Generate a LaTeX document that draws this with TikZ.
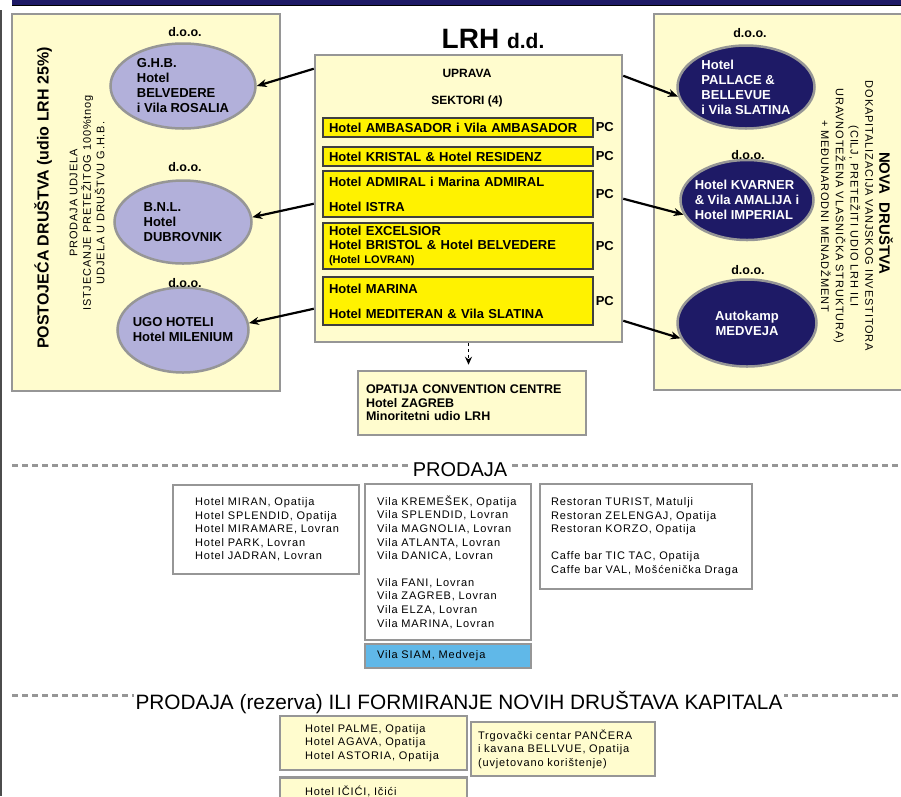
\documentclass[tikz,border=0pt]{standalone}
\usepackage{fontspec}
\setmainfont{Liberation Sans}
\newfontfamily\spacedfont[LetterSpace=8]{Liberation Sans}
\usetikzlibrary{arrows.meta, positioning, shapes.geometric}
\definecolor{lrhnavy}{RGB}{30,26,102}
\definecolor{paleyellow}{RGB}{255,252,206}
\definecolor{sektoryellow}{RGB}{255,242,0}
\definecolor{lavender}{RGB}{178,176,218}
\definecolor{framegray}{RGB}{150,150,150}
\definecolor{siamblue}{RGB}{96,184,232}
\newcommand{\fsz}[2]{\fontsize{#1}{#2}\selectfont}

\begin{document}
\begin{tikzpicture}[x=1pt, y=-1pt,
  panel/.style={draw=framegray, line width=2.5pt, fill=paleyellow},
  sektor/.style={draw=black!75, line width=1.2pt, fill=sektoryellow, minimum width=270pt,
    text width=258pt, align=left, inner xsep=6pt, inner ysep=0pt, font=\fsz{13}{14}\bfseries},
  pc/.style={font=\fsz{13}{14}\bfseries, inner sep=1pt},
  oldco/.style={ellipse, draw=framegray, line width=2.5pt, fill=lavender, inner sep=-10pt,
    align=left, font=\fsz{13}{15}\bfseries},
  newco/.style={ellipse, draw=framegray, line width=2.5pt, fill=lrhnavy, text=white, inner sep=-10pt,
    align=left, font=\fsz{13}{15}\bfseries},
  doo/.style={font=\fsz{12.5}{14}\bfseries, inner sep=1pt},
  listbox/.style={draw=framegray, line width=2.5pt, fill=white, align=left,
    font=\spacedfont\fsz{11}{13.6}},
  reservebox/.style={listbox, fill=paleyellow},
  sepline/.style={framegray, line width=3pt, dash pattern=on 6pt off 4pt},
  arr/.style={-{Stealth[length=10pt, width=8pt]}, line width=2.2pt, black}
]
  \useasboundingbox (0,0) rectangle (901,796);

  % frame of the page
  \fill[lrhnavy] (12,0) rectangle (901,5);
  \draw[black, line width=1pt] (12,5.5) -- (901,5.5);
  \draw[black!70, line width=2pt] (1,10) -- (1,796);

  % panels
  \node[panel, minimum width=268pt, minimum height=377pt] (oldpanel) at (146,202.5) {};
  \node[panel, minimum width=260pt, minimum height=376pt] (newpanel) at (784,202) {};
  \node[panel, minimum width=307pt, minimum height=287pt] (lrh) at (468.5,198.5) {};
  \node[anchor=base, font=\fsz{28}{30}\bfseries] (title) at (493,48) {LRH \fsz{21}{24}d.d.};

  \node[font=\fsz{12}{14}\bfseries] (uprava) at (467,73) {UPRAVA};
  \node[font=\fsz{12}{14}\bfseries] (sektori) at (467,101) {SEKTORI (4)};

  \foreach \i/\ytop/\h/\lbl in {
    1/118/19/{Hotel AMBASADOR i Vila AMBASADOR},
    2/147/19/{Hotel KRISTAL \& Hotel RESIDENZ},
    3/171/46/{Hotel ADMIRAL i Marina ADMIRAL\\[11pt]Hotel ISTRA},
    4/223/46/{Hotel EXCELSIOR\\Hotel BRISTOL \& Hotel BELVEDERE\\{\fsz{11}{13}(Hotel LOVRAN)}},
    5/277/48/{Hotel MARINA\\[11pt]Hotel MEDITERAN \& Vila SLATINA}
  }{
    \node[sektor, minimum height=\h*1pt] (sektor\i) at (458, \ytop+\h/2) {\lbl};
    \node[pc, right=1pt of sektor\i] (pc\i) {PC};
  }

  \node[panel, align=left, font=\fsz{12.5}{13.5}\bfseries, minimum width=228pt, minimum height=64pt,
    text width=212pt] (occ) at (472,403)
    {OPATIJA CONVENTION CENTRE\\Hotel ZAGREB\\Minoritetni udio LRH};
  \draw[-{Stealth[length=8pt, width=7pt]}, line width=1.5pt, dash pattern=on 3pt off 3pt,
    shorten >=5pt] (lrh.south) -- (lrh.south |- occ.north);

  % postojeca drustva
  \node[rotate=90, font=\fsz{16}{18}\bfseries] (oldtitle) at (43,198) {POSTOJEĆA DRUŠTVA (udio LRH 25\%)};
  \node[rotate=90, align=center, font=\spacedfont\fsz{11}{13.5}] (oldnote) at (87,203)
    {PRODAJA UDJELA\\ISTJECANJE PRETEŽITOG 100\%tnog\\UDJELA U DRUŠTVU G.H.B.};
  \node[oldco, minimum width=145pt, minimum height=85pt] (ghb) at (183,86)
    {G.H.B.\\Hotel\\BELVEDERE\\i Vila ROSALIA};
  \node[oldco, minimum width=137pt, minimum height=83pt] (bnl) at (183,222)
    {B.N.L.\\Hotel\\DUBROVNIK};
  \node[oldco, minimum width=131pt, minimum height=85pt] (ugo) at (183,330)
    {UGO HOTELI\\Hotel MILENIUM};
  \node[doo] (doo1) at (185,32) {d.o.o.};
  \node[doo] (doo2) at (185,167) {d.o.o.};
  \node[doo] (doo3) at (185,283) {d.o.o.};

  % nova drustva
  \node[rotate=-90, font=\fsz{15}{18}\bfseries] (newtitle) at (886,213) {NOVA~ DRUŠTVA};
  \node[rotate=-90, align=center, font=\spacedfont\fsz{11}{14.7}] (newnote) at (847,216)
    {DOKAPITALIZACIJA VANJSKOG INVESTITORA\\(CILJ, PRETEŽITI UDIO LRH ILI\\URAVNOTEŽENA VLASNIČKA STRUKTURA)\\+ MEĐUNARODNI MENADŽMENT};
  \node[newco, minimum width=137pt, minimum height=83pt] (pallace) at (746,87)
    {Hotel\\PALLACE \&\\BELLEVUE\\i Vila SLATINA};
  \node[newco, minimum width=133pt, minimum height=80pt] (kvarner) at (747,200)
    {Hotel KVARNER\\\& Vila AMALIJA i\\Hotel IMPERIAL};
  \node[newco, minimum width=139pt, minimum height=87pt, align=center] (medveja) at (747,323)
    {Autokamp\\MEDVEJA};
  \node[doo] (doo4) at (750,33) {d.o.o.};
  \node[doo] (doo5) at (748,155) {d.o.o.};
  \node[doo] (doo6) at (748,270) {d.o.o.};

  % arrows
  \draw[arr] ([yshift=-15pt]lrh.north west) -- (ghb.east);
  \draw[arr] ([yshift=-150pt]lrh.north west) -- (bnl.4);
  \draw[arr] ([yshift=-255pt]lrh.north west) -- (ugo.6);
  \draw[arr] ([yshift=-22pt]lrh.north east) -- (pallace.188);
  \draw[arr] ([yshift=-145pt]lrh.north east) -- (kvarner.193);
  \draw[arr] ([yshift=-267pt]lrh.north east) -- (medveja.193);

  % prodaja
  \draw[sepline] (12,465) -- (901,465);
  \node[fill=white, inner xsep=2pt, inner ysep=1pt, font=\fsz{20}{22}] (prodaja) at (460,469.5) {PRODAJA};
  \node[listbox, minimum width=186pt, minimum height=89pt, text width=142pt, inner xsep=22pt] (hotels) at (266,529.5)
    {Hotel MIRAN, Opatija\\Hotel SPLENDID, Opatija\\Hotel MIRAMARE, Lovran\\Hotel PARK, Lovran\\Hotel JADRAN, Lovran};
  \node[listbox, minimum width=166pt, minimum height=156pt, text width=142pt, inner xsep=12pt] (vile) at (448,562)
    {Vila KREMEŠEK, Opatija\\Vila SPLENDID, Lovran\\Vila MAGNOLIA, Lovran\\Vila ATLANTA, Lovran\\Vila DANICA, Lovran\\[13pt]Vila FANI, Lovran\\Vila ZAGREB, Lovran\\Vila ELZA, Lovran\\Vila MARINA, Lovran};
  \node[listbox, fill=siamblue, minimum width=166pt, minimum height=24pt, text width=142pt, inner xsep=12pt] (siam) at (448,656)
    {Vila SIAM, Medveja};
  \node[listbox, minimum width=212pt, minimum height=105pt, text width=190pt, inner xsep=11pt] (restorani) at (646,536.5)
    {Restoran TURIST, Matulji\\Restoran ZELENGAJ, Opatija\\Restoran KORZO, Opatija\\[13pt]Caffe bar TIC TAC, Opatija\\Caffe bar VAL, Mošćenička Draga};

  % rezerva
  \draw[sepline] (12,695) -- (901,695);
  \node[fill=white, inner xsep=2pt, inner ysep=1pt, font=\fsz{20.8}{22}] (rezerva) at (459,703)
    {PRODAJA (rezerva) ILI FORMIRANJE NOVIH DRUŠTAVA KAPITALA};
  \node[reservebox, minimum width=187pt, minimum height=54pt, text width=137pt, inner xsep=25pt] (palme) at (373.5,743)
    {Hotel PALME, Opatija\\Hotel AGAVA, Opatija\\Hotel ASTORIA, Opatija};
  \node[reservebox, minimum width=184pt, minimum height=54pt, text width=170pt, inner xsep=7pt] (pancera) at (563,749)
    {Trgovački centar PANČERA\\i kavana BELLVUE, Opatija\\(uvjetovano korištenje)};
  \node[reservebox, minimum width=187pt, minimum height=54pt, text width=137pt, inner xsep=25pt, anchor=north] (icici) at (373.5,776)
    {Hotel IČIĆI, Ičići\\\mbox{}\\\mbox{}};
\end{tikzpicture}
\end{document}
